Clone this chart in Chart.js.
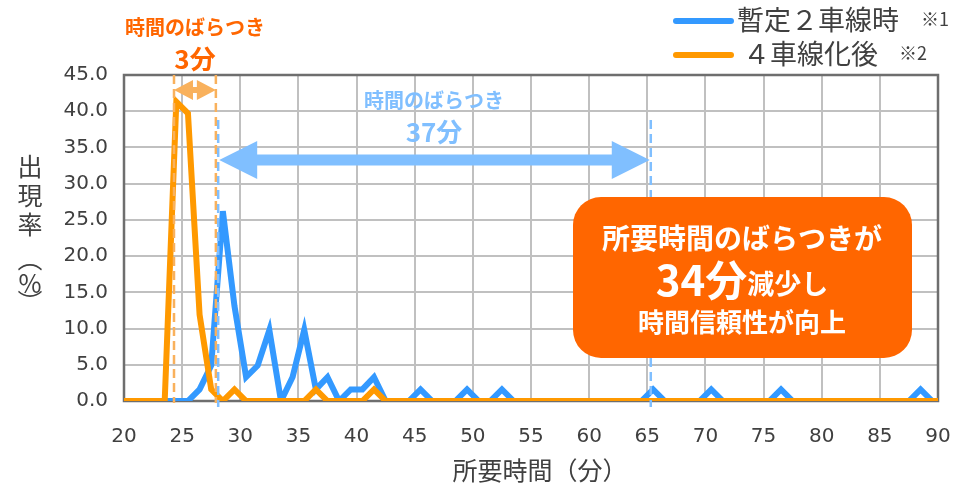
<!DOCTYPE html>
<html lang="ja">
<head>
<meta charset="utf-8">
<script src="https://cdn.jsdelivr.net/npm/chart.js@4.4.1/dist/chart.umd.min.js"></script>
<style>
  html, body { margin: 0; padding: 0; background: #fff; }
  #wrap { width: 953px; height: 486px; }
</style>
</head>
<body>
<div id="wrap"><canvas id="chart" width="953" height="486"></canvas></div>
<script>
// Data: share of trips per 1-minute bin
const minutes = [20,
  20.5, 21.5, 22.5, 23.5, 24.5, 25.5, 26.5, 27.5, 28.5, 29.5,
  30.5, 31.5, 32.5, 33.5, 34.5, 35.5, 36.5, 37.5, 38.5, 39.5,
  40.5, 41.5, 42.5, 43.5, 44.5, 45.5, 46.5, 47.5, 48.5, 49.5,
  50.5, 51.5, 52.5, 53.5, 54.5, 55.5, 56.5, 57.5, 58.5, 59.5,
  60.5, 61.5, 62.5, 63.5, 64.5, 65.5, 66.5, 67.5, 68.5, 69.5,
  70.5, 71.5, 72.5, 73.5, 74.5, 75.5, 76.5, 77.5, 78.5, 79.5,
  80.5, 81.5, 82.5, 83.5, 84.5, 85.5, 86.5, 87.5, 88.5, 89.5,
  90];

const beforeValues = [0,
  0, 0, 0, 0, 0, 0, 1.6, 4.9, 26.2, 13.1,
  3.3, 4.9, 9.8, 0, 3.3, 9.8, 1.6, 3.3, 0, 1.6,
  1.6, 3.3, 0, 0, 0, 1.6, 0, 0, 0, 1.6,
  0, 0, 1.6, 0, 0, 0, 0, 0, 0, 0,
  0, 0, 0, 0, 0, 1.6, 0, 0, 0, 0,
  1.6, 0, 0, 0, 0, 0, 1.6, 0, 0, 0,
  0, 0, 0, 0, 0, 0, 0, 0, 1.6, 0,
  0];

const afterValues = [0,
  0, 0, 0, 0, 41.3, 39.7, 11.9, 1.6, 0, 1.6,
  0, 0, 0, 0, 0, 0, 1.6, 0, 0, 0,
  0, 1.6, 0, 0, 0, 0, 0, 0, 0, 0,
  0, 0, 0, 0, 0, 0, 0, 0, 0, 0,
  0, 0, 0, 0, 0, 0, 0, 0, 0, 0,
  0, 0, 0, 0, 0, 0, 0, 0, 0, 0,
  0, 0, 0, 0, 0, 0, 0, 0, 0, 0,
  0];

const seriesNames = ['暫定２車線時', '４車線化後'];
const seriesNotes = ['※1', '※2'];

// Spread markers (minutes)
const afterSpread = [24.3, 27.9];
const beforeSpread = [28.1, 65.3];

const BLUE = '#3399FF';
const ORANGE = '#FF9900';
const LIGHT_BLUE = '#80BFFF';
const LIGHT_ORANGE = '#F9B15C';
const DEEP_ORANGE = '#FF6600';
const TEXT = '#404040';
const JP = '"Noto Sans CJK JP", "Noto Sans", sans-serif';

function toPoints(values) {
  return values.map((v, i) => ({ x: minutes[i], y: v }));
}

// Double-headed arrow
function doubleArrow(ctx, x1, x2, y, shaft, headLen, headH, color) {
  ctx.save();
  ctx.fillStyle = color;
  ctx.beginPath();
  ctx.moveTo(x1, y);
  ctx.lineTo(x1 + headLen, y - headH / 2);
  ctx.lineTo(x1 + headLen, y - shaft / 2);
  ctx.lineTo(x2 - headLen, y - shaft / 2);
  ctx.lineTo(x2 - headLen, y - headH / 2);
  ctx.lineTo(x2, y);
  ctx.lineTo(x2 - headLen, y + headH / 2);
  ctx.lineTo(x2 - headLen, y + shaft / 2);
  ctx.lineTo(x1 + headLen, y + shaft / 2);
  ctx.lineTo(x1 + headLen, y + headH / 2);
  ctx.closePath();
  ctx.fill();
  ctx.restore();
}

function dashedVLine(ctx, x, y1, y2, color) {
  ctx.save();
  ctx.strokeStyle = color;
  ctx.lineWidth = 2.5;
  ctx.setLineDash([9, 5]);
  ctx.beginPath();
  ctx.moveTo(x, y1);
  ctx.lineTo(x, y2);
  ctx.stroke();
  ctx.restore();
}

function roundBox(ctx, x, y, w, h, r, color) {
  ctx.save();
  ctx.fillStyle = color;
  ctx.beginPath();
  ctx.moveTo(x + r, y);
  ctx.arcTo(x + w, y, x + w, y + h, r);
  ctx.arcTo(x + w, y + h, x, y + h, r);
  ctx.arcTo(x, y + h, x, y, r);
  ctx.arcTo(x, y, x + w, y, r);
  ctx.closePath();
  ctx.fill();
  ctx.restore();
}

function text(ctx, str, x, y, font, color, align) {
  ctx.font = font;
  ctx.fillStyle = color;
  ctx.textAlign = align || 'center';
  ctx.textBaseline = 'middle';
  ctx.fillText(str, x, y);
}

const extras = {
  id: 'extras',
  beforeDatasetsDraw(chart) {
    const { ctx, chartArea: a } = chart;
    ctx.save();
    ctx.strokeStyle = '#6E6E6E';
    ctx.lineWidth = 2.5;
    ctx.strokeRect(a.left, a.top, a.right - a.left, a.bottom - a.top);
    ctx.restore();
  },
  afterDatasetsDraw(chart) {
    const { ctx, chartArea: a } = chart;
    const xs = chart.scales.x;

    // orange spread (after widening)
    const o1 = xs.getPixelForValue(afterSpread[0]);
    const o2 = xs.getPixelForValue(afterSpread[1]);
    dashedVLine(ctx, o1, a.top, a.bottom + 2, LIGHT_ORANGE);
    dashedVLine(ctx, o2, a.top, a.bottom + 2, LIGHT_ORANGE);
    doubleArrow(ctx, o1, o2, 90, 6, 19, 20, LIGHT_ORANGE);

    // blue spread (before)
    const b1 = xs.getPixelForValue(beforeSpread[0]);
    const b2 = xs.getPixelForValue(beforeSpread[1]);
    dashedVLine(ctx, b1, 120, a.bottom + 6, LIGHT_BLUE);
    dashedVLine(ctx, b2, 120, a.bottom + 6, LIGHT_BLUE);
    doubleArrow(ctx, b1 + 1, b2 - 1, 160, 11, 38, 38, LIGHT_BLUE);
  },
  afterDraw(chart) {
    const { ctx } = chart;
    ctx.save();

    // spread labels
    text(ctx, '時間のばらつき', 195, 27, 'bold 20px ' + JP, DEEP_ORANGE);
    text(ctx, '3分', 195, 59, 'bold 26px ' + JP, DEEP_ORANGE);
    text(ctx, '時間のばらつき', 434, 100, 'bold 20px ' + JP, LIGHT_BLUE);
    text(ctx, '37分', 434, 132, 'bold 26px ' + JP, LIGHT_BLUE);

    // callout box
    roundBox(ctx, 573, 197, 339, 161, 28, DEEP_ORANGE);
    text(ctx, '所要時間のばらつきが', 742, 238, 'bold 28px ' + JP, '#fff');
    ctx.font = 'bold 42px ' + JP;
    const w1 = ctx.measureText('34分').width;
    ctx.font = 'bold 27px ' + JP;
    const w2 = ctx.measureText('減少し').width;
    const sx = 742 - (w1 + w2) / 2;
    text(ctx, '34分', sx, 280, 'bold 42px ' + JP, '#fff', 'left');
    text(ctx, '減少し', sx + w1, 284, 'bold 27px ' + JP, '#fff', 'left');
    text(ctx, '時間信頼性が向上', 742, 322, 'bold 26px ' + JP, '#fff');

    // legend
    const legendY = [21, 55];
    const legendColors = [BLUE, ORANGE];
    const textX = [737, 743];
    const noteX = [921, 899];
    legendY.forEach((y, i) => {
      ctx.strokeStyle = legendColors[i];
      ctx.lineWidth = 6;
      ctx.lineCap = 'round';
      ctx.beginPath();
      ctx.moveTo(676, y);
      ctx.lineTo(731, y);
      ctx.stroke();
      text(ctx, seriesNames[i], textX[i], y - 1, '27px ' + JP, TEXT, 'left');
      text(ctx, seriesNotes[i], noteX[i], y - 2, '18px ' + JP, TEXT, 'left');
    });

    // axis titles
    text(ctx, '所要時間（分）', 540, 470, '25px ' + JP, TEXT);
    const yTitle = [['出', 166], ['現', 195], ['率', 224], ['︵', 258], ['%', 283], ['︶', 302]];
    yTitle.forEach(([ch, y]) => text(ctx, ch, 30, y, '25px ' + JP, TEXT));

    ctx.restore();
  }
};

new Chart(document.getElementById('chart'), {
  type: 'line',
  data: {
    datasets: [
      {
        label: seriesNames[0],
        data: toPoints(beforeValues),
        borderColor: BLUE,
        backgroundColor: BLUE,
        borderWidth: 6,
        pointRadius: 0,
        tension: 0,
        order: 2
      },
      {
        label: seriesNames[1],
        data: toPoints(afterValues),
        borderColor: ORANGE,
        backgroundColor: ORANGE,
        borderWidth: 6,
        pointRadius: 0,
        tension: 0,
        order: 1
      }
    ]
  },
  options: {
    responsive: false,
    animation: false,
    layout: { padding: { top: 75, right: 15, left: 0, bottom: 0 } },
    plugins: {
      legend: { display: false },
      tooltip: { enabled: false }
    },
    scales: {
      x: {
        type: 'linear',
        min: 20,
        max: 90,
        afterFit: s => { s.height = 85; s.paddingLeft = 0; s.paddingRight = 0; },
        grid: { color: '#C0C0C0', lineWidth: 2, drawTicks: false },
        border: { display: false },
        ticks: {
          stepSize: 5,
          autoSkip: false,
          maxRotation: 0,
          padding: 24,
          color: TEXT,
          font: { family: 'DejaVu Sans', size: 20 }
        }
      },
      y: {
        min: 0,
        max: 45,
        afterFit: s => { s.width = 124; s.paddingTop = 0; s.paddingBottom = 0; },
        grid: { color: '#C0C0C0', lineWidth: 2, drawTicks: false },
        border: { display: false },
        ticks: {
          stepSize: 5,
          padding: 16,
          color: TEXT,
          font: { family: 'DejaVu Sans', size: 20 },
          callback: v => v.toFixed(1)
        }
      }
    }
  },
  plugins: [extras]
});
</script>
</body>
</html>
